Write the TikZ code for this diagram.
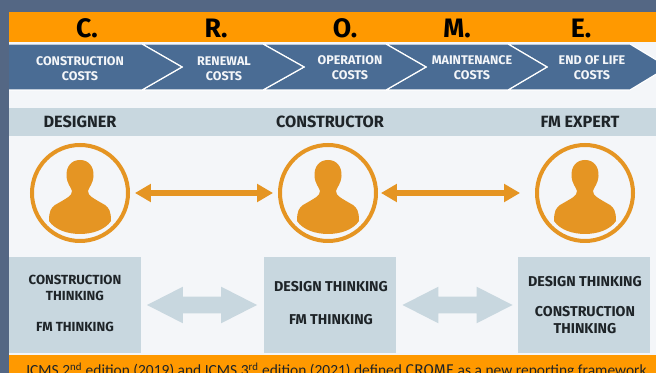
\documentclass[tikz,border=0pt]{standalone}
\usepackage{fontspec}
\setmainfont{Carlito}
\newfontfamily\din{Fira Sans}
\usetikzlibrary{arrows.meta,shapes.arrows}
\definecolor{slatebg}{HTML}{546784}
\definecolor{panelbg}{HTML}{F4F6F9}
\definecolor{barorange}{HTML}{FF9900}
\definecolor{chevblue}{HTML}{4A6C94}
\definecolor{lightblue}{HTML}{C8D7DF}
\definecolor{iconorange}{HTML}{E59523}
\definecolor{inkdark}{HTML}{1E2428}
\tikzset{
  px/.style={x=0.75pt,y=-0.75pt},
  chev/.style={fill=chevblue,draw=white,line width=0.9pt},
  chevtext/.style={font=\din\bfseries\fontsize{9.4}{11.3}\selectfont,text=panelbg,align=center,inner sep=0pt},
  letter/.style={font=\din\bfseries\fontsize{20}{20}\selectfont,text=black,inner sep=0pt},
  rolelabel/.style={font=\din\bfseries\fontsize{12.2}{12}\selectfont,text=inkdark,inner sep=0pt},
  thinktext/.style={font=\din\bfseries\fontsize{9.9}{12}\selectfont,text=inkdark,align=center,inner sep=0pt},
  thinktextb/.style={font=\din\bfseries\fontsize{10.7}{12.8}\selectfont,text=inkdark,align=center,inner sep=0pt},
  thinkbox/.style={fill=lightblue,minimum width=99pt,minimum height=72pt,inner sep=0pt},
  ring/.style={circle,draw=iconorange,line width=3pt,minimum size=72pt,inner sep=0pt,outer sep=5.2pt},
  orangearrow/.style={draw=iconorange,line width=3.8pt,{Triangle[length=12pt,width=13pt]}-{Triangle[length=12pt,width=13pt]}},
  fatarrow/.style={double arrow,fill=lightblue,minimum height=82.5pt,minimum width=27pt,inner sep=0pt,inner ysep=6pt,double arrow head extend=7.5pt,double arrow tip angle=54},
  person/.pic={\fill[iconorange] (0,-33) .. controls (9,-33) and (14,-26) .. (13.5,-17) .. controls (13,-9) and (9,-6) .. (8,-2) .. controls (8,3) and (13,5) .. (25,12) .. controls (29,15) and (31,18) .. (31,28) .. controls (25,37) and (12,41) .. (0,41) .. controls (-12,41) and (-25,37) .. (-31,28) .. controls (-31,18) and (-29,15) .. (-25,12) .. controls (-13,5) and (-8,3) .. (-8,-2) .. controls (-9,-6) and (-13,-9) .. (-13.5,-17) .. controls (-14,-26) and (-9,-33) .. (0,-33) -- cycle;}
}
\begin{document}
\begin{tikzpicture}[px]
\useasboundingbox (0,0) rectangle (656,373);
\clip (0,0) rectangle (656,373);
\fill[slatebg] (0,0) rectangle (656,373);
\fill[panelbg] (9,12) rectangle (656,373);
\fill[barorange] (9,12) rectangle (656,42);
% chevrons
\draw[chev] (630,44) -- (668,67) -- (630,90) -- (508,90) -- (547,67) -- (508,44) -- cycle;
\draw[chev] (508,44) -- (547,67) -- (508,90) -- (386,90) -- (426,67) -- (386,44) -- cycle;
\draw[chev] (386,44) -- (426,67) -- (386,90) -- (263,90) -- (304,67) -- (263,44) -- cycle;
\draw[chev] (263,44) -- (304,67) -- (263,90) -- (142,90) -- (182,67) -- (142,44) -- cycle;
\draw[chev] (142,44) -- (182,67) -- (142,90) -- (5,90) -- (5,44) -- cycle;
\fill[slatebg] (0,40) rectangle (9,95);
% letters
\node[letter] (lc) at (87,28) {C.};
\node[letter] (lr) at (216,28) {R.};
\node[letter] (lo) at (345,28) {O.};
\node[letter] (lm) at (457,28) {M.};
\node[letter] (le) at (581,28) {E.};
% chevron labels
\node[chevtext] (t1) at (80,68.5) {CONSTRUCTION\\COSTS};
\node[chevtext] (t2) at (224,68.5) {RENEWAL\\COSTS};
\node[chevtext] (t3) at (350,67.5) {OPERATION\\COSTS};
\node[chevtext] (t4) at (472,67.5) {MAINTENANCE\\COSTS};
\node[chevtext] (t5) at (592,67.5) {END OF LIFE\\COSTS};
% role bar
\fill[lightblue] (9,108) rectangle (656,136);
\node[rolelabel] (r1) at (80,122) {DESIGNER};
\node[rolelabel] (r2) at (330,122) {CONSTRUCTOR};
\node[rolelabel] (r3) at (580,122) {FM EXPERT};
% people
\node[ring] (c1) at (80,193) {};
\node[ring] (c2) at (328,193) {};
\node[ring] (c3) at (585,193) {};
\pic at (c1) {person};
\pic at (c2) {person};
\pic at (c3) {person};
\draw[orangearrow] (c1) -- (c2);
\draw[orangearrow,shorten >=7.5pt,shorten <=-1.5pt] (c2) -- (c3);
% thinking boxes
\node[thinkbox] (b1) at (75,305) {};
\node[thinkbox] (b2) at (330,305) {};
\node[thinkbox] (b3) at (583.5,305) {};
\node[thinktext] (k1) at (75,303.5) {CONSTRUCTION\\THINKING\\[11pt]FM THINKING};
\node[thinktextb] (k2) at (331,303.5) {DESIGN THINKING\\[12pt]FM THINKING};
\node[thinktextb] (k3) at (585,305) {DESIGN THINKING\\[10pt]CONSTRUCTION\\THINKING};
\node[fatarrow] (f1) at (202,305) {};
\node[fatarrow] (f2) at (457.5,305) {};
% bottom bar
\fill[barorange] (9,355) rectangle (656,373);
\node[anchor=base,inner sep=0pt,font=\fontsize{11.6}{12}\selectfont,text=inkdark] (foot) at (336.5,376) {ICMS 2\textsuperscript{nd} edition (2019) and ICMS 3\textsuperscript{rd} edition (2021) defined {\din\fontsize{11.6}{12}\selectfont CROME} as a new reporting framework};
\end{tikzpicture}
\end{document}
